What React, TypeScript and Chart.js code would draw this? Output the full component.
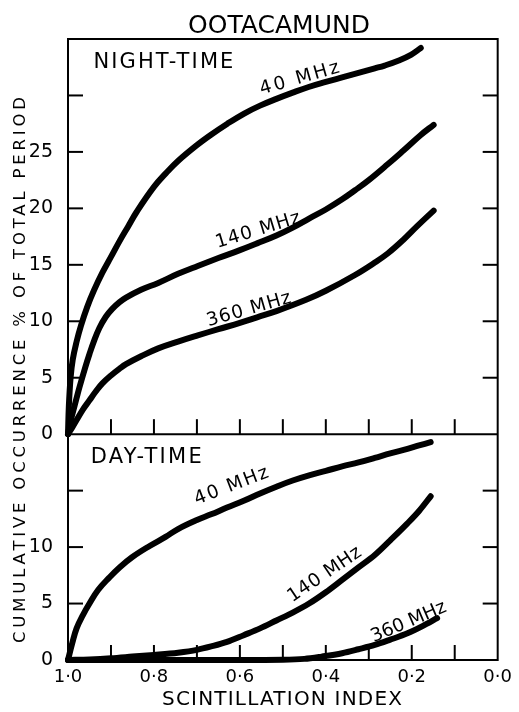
import React, { useEffect, useRef } from "react";
import { Chart, registerables } from "chart.js";

Chart.register(...registerables);

// ---------- data ----------
const titleText = "OOTACAMUND";
const xAxisTitle = "SCINTILLATION INDEX";
const yAxisTitle = "CUMULATIVE OCCURRENCE % OF TOTAL PERIOD";
const panelNames = ["NIGHT-TIME", "DAY-TIME"];
const seriesNames = ["40 MHz", "140 MHz", "360 MHz"];

// Night-time
const night40x = [1.0, 0.998, 0.994, 0.989, 0.98, 0.97, 0.955, 0.94, 0.92, 0.9, 0.88, 0.86, 0.84, 0.8, 0.77, 0.744, 0.7, 0.668, 0.629, 0.59, 0.553, 0.515, 0.477, 0.44, 0.4, 0.362, 0.324, 0.286, 0.263, 0.23, 0.202, 0.179];
const night40y = [0, 2.5, 5.0, 6.6, 8.2, 9.6, 11.3, 12.7, 14.3, 15.7, 17.1, 18.4, 19.7, 21.9, 23.2, 24.2, 25.6, 26.5, 27.5, 28.4, 29.1, 29.7, 30.25, 30.75, 31.2, 31.6, 32.0, 32.4, 32.65, 33.1, 33.6, 34.2];
const night140x = [1.0, 0.995, 0.989, 0.98, 0.973, 0.96, 0.95, 0.94, 0.927, 0.912, 0.897, 0.88, 0.865, 0.83, 0.79, 0.744, 0.698, 0.65, 0.6, 0.56, 0.515, 0.477, 0.439, 0.4, 0.362, 0.332, 0.3, 0.256, 0.22, 0.179, 0.149];
const night140y = [0, 1.0, 1.9, 3.2, 4.2, 5.9, 7.1, 8.2, 9.4, 10.4, 11.1, 11.7, 12.1, 12.8, 13.4, 14.2, 14.9, 15.6, 16.3, 16.9, 17.6, 18.3, 19.1, 19.9, 20.8, 21.6, 22.5, 23.9, 25.1, 26.5, 27.4];
const night360x = [1.0, 0.99, 0.98, 0.965, 0.95, 0.935, 0.92, 0.9, 0.88, 0.865, 0.83, 0.79, 0.744, 0.698, 0.65, 0.6, 0.56, 0.515, 0.446, 0.4, 0.332, 0.286, 0.256, 0.22, 0.188, 0.149];
const night360y = [0, 0.6, 1.25, 2.2, 3.0, 3.8, 4.5, 5.2, 5.8, 6.2, 6.9, 7.6, 8.2, 8.75, 9.3, 9.85, 10.35, 10.9, 11.9, 12.7, 14.1, 15.2, 16.0, 17.2, 18.4, 19.8];

// Day-time
const day40x = [1.0, 0.99, 0.98, 0.965, 0.95, 0.93, 0.904, 0.88, 0.851, 0.81, 0.773, 0.744, 0.7, 0.667, 0.63, 0.591, 0.553, 0.515, 0.477, 0.439, 0.4, 0.362, 0.324, 0.286, 0.25, 0.21, 0.183, 0.156];
const day40y = [0, 1.5, 2.8, 4.0, 5.0, 6.2, 7.3, 8.2, 9.1, 10.1, 10.9, 11.6, 12.4, 12.9, 13.5, 14.1, 14.75, 15.35, 15.9, 16.35, 16.75, 17.15, 17.5, 17.9, 18.3, 18.7, 19.0, 19.3];
const day140x = [1.0, 0.95, 0.9, 0.85, 0.8, 0.744, 0.7, 0.667, 0.63, 0.591, 0.553, 0.515, 0.477, 0.439, 0.4, 0.362, 0.324, 0.286, 0.25, 0.21, 0.183, 0.156];
const day140y = [0, 0.05, 0.15, 0.3, 0.45, 0.65, 0.9, 1.2, 1.6, 2.2, 2.8, 3.5, 4.2, 5.0, 6.0, 7.1, 8.2, 9.3, 10.6, 12.1, 13.2, 14.5];
const day360x = [1.0, 0.8, 0.6, 0.5, 0.45, 0.41, 0.362, 0.324, 0.286, 0.25, 0.21, 0.175, 0.141];
const day360y = [0, 0, 0, 0.02, 0.1, 0.3, 0.6, 0.95, 1.33, 1.8, 2.36, 3.0, 3.7];

// axis ranges / ticks
const nightMax = 35;
const dayMax = 20;
const yStep = 5;
const nightLabelledMax = 25;
const dayLabelledMax = 10;
const xStep = 0.1;

// label anchors in data units: [x, y]
const nightLabelAnchors = [[0.462, 31.65], [0.559, 18.2], [0.58, 11.2]];
const dayLabelAnchors = [[0.621, 15.55], [0.405, 7.7], [0.209, 3.5]];
const panelLabelAnchors = [[0.778, 33.1], [0.818, 18.16]];

// ---------- helpers ----------
const FONT = '"DejaVu Sans", "Noto Sans", sans-serif';
const zip = (xs: number[], ys: number[]) => xs.map((x, i) => ({ x, y: ys[i] }));

function spacedText(
  ctx: CanvasRenderingContext2D,
  text: string,
  cx: number,
  cy: number,
  width: number,
  size: number,
  angleDeg: number
) {
  ctx.save();
  ctx.font = `${size}px ${FONT}`;
  ctx.fillStyle = "#000";
  ctx.translate(cx, cy);
  ctx.rotate((angleDeg * Math.PI) / 180);
  ctx.textAlign = "left";
  ctx.textBaseline = "alphabetic";
  const n = Array.from(text).length;
  const anyCtx = ctx as any;
  const by = size * 0.365;
  if ("letterSpacing" in anyCtx) {
    anyCtx.letterSpacing = "0px";
    const w0 = ctx.measureText(text).width;
    const sp = n > 1 ? (width - w0) / (n - 1) : 0;
    anyCtx.letterSpacing = `${sp}px`;
    ctx.fillText(text, -width / 2, by);
  } else {
    const chars = Array.from(text);
    const ws = chars.map((c) => ctx.measureText(c).width);
    const total = ws.reduce((a, b) => a + b, 0);
    const sp = n > 1 ? (width - total) / (n - 1) : 0;
    let xx = -width / 2;
    chars.forEach((c, i) => {
      ctx.fillText(c, xx, by);
      xx += ws[i] + sp;
    });
  }
  ctx.restore();
}

const framePlugin = {
  id: "frameTicks",
  beforeDatasetsDraw(chart: any) {
    const ctx: CanvasRenderingContext2D = chart.ctx;
    const { left, right, top, bottom } = chart.chartArea;
    const xs = chart.scales.x;
    const yT = chart.scales.yTop;
    const yB = chart.scales.yBot;
    const mid = yT.getPixelForValue(0);
    const tl = 15;
    ctx.save();
    ctx.strokeStyle = "#000";
    ctx.lineWidth = 2;
    ctx.lineCap = "butt";
    const seg = (x1: number, y1: number, x2: number, y2: number) => {
      ctx.beginPath();
      ctx.moveTo(x1, y1);
      ctx.lineTo(x2, y2);
      ctx.stroke();
    };
    ctx.strokeRect(left, top, right - left, bottom - top);
    seg(left, mid, right, mid);
    for (const sc of [yT, yB]) {
      for (const t of sc.ticks) {
        if (t.value <= sc.min || t.value >= sc.max) continue;
        const py = sc.getPixelForValue(t.value);
        seg(left, py, left + tl, py);
        seg(right - tl, py, right, py);
      }
    }
    for (const t of xs.ticks) {
      if (t.value <= xs.min + 1e-9 || t.value >= xs.max - 1e-9) continue;
      const px = xs.getPixelForValue(t.value);
      seg(px, mid, px, mid - tl);
      seg(px, bottom, px, bottom - tl);
    }
    ctx.restore();
  },
  afterDraw(chart: any) {
    const ctx: CanvasRenderingContext2D = chart.ctx;
    const xs = chart.scales.x;
    const yT = chart.scales.yTop;
    const yB = chart.scales.yBot;
    // title and axis titles
    spacedText(ctx, titleText, 279, 24, 182, 25, 0);
    spacedText(ctx, xAxisTitle, 282, 698, 240, 20, 0);
    spacedText(ctx, yAxisTitle, 18.5, 370, 546, 16.5, -90);
    // panel names
    const pScales = [yT, yB];
    const pWidths = [140, 111];
    panelNames.forEach((name, i) => {
      const [vx, vy] = panelLabelAnchors[i];
      spacedText(ctx, name, xs.getPixelForValue(vx), pScales[i].getPixelForValue(vy), pWidths[i], 21, 0);
    });
    // curve labels
    const nightAngles = [-16, -17, -16];
    const nightWidths = [82, 88, 87];
    const dayAngles = [-21, -34, -23];
    const dayWidths = [78, 85, 80];
    seriesNames.forEach((name, i) => {
      const [nx, ny] = nightLabelAnchors[i];
      spacedText(ctx, name, xs.getPixelForValue(nx), yT.getPixelForValue(ny), nightWidths[i], 18.5, nightAngles[i]);
      const [dx, dy] = dayLabelAnchors[i];
      spacedText(ctx, name, xs.getPixelForValue(dx), yB.getPixelForValue(dy), dayWidths[i], 18.5, dayAngles[i]);
    });
  },
};

const fmtX = (v: number) => {
  const k = Math.round(v * 10);
  if (k % 2 !== 0) return "";
  return (k / 10).toFixed(1).replace(".", "·");
};

export default function App() {
  const ref = useRef<HTMLCanvasElement | null>(null);
  useEffect(() => {
    if (!ref.current) return;
    const smooth = {
      borderColor: "#000",
      borderWidth: 6,
      pointRadius: 0,
      tension: 0.4,
      borderCapStyle: "round" as const,
      borderJoinStyle: "round" as const,
      fill: false,
      clip: false as any,
    };
    const mono = { ...smooth, cubicInterpolationMode: "monotone" as const };
    const chart = new Chart(ref.current, {
      type: "line",
      data: {
        datasets: [
          { ...smooth, label: "Night " + seriesNames[0], data: zip(night40x, night40y), yAxisID: "yTop" },
          { ...smooth, label: "Night " + seriesNames[1], data: zip(night140x, night140y), yAxisID: "yTop" },
          { ...smooth, label: "Night " + seriesNames[2], data: zip(night360x, night360y), yAxisID: "yTop" },
          { ...smooth, label: "Day " + seriesNames[0], data: zip(day40x, day40y), yAxisID: "yBot" },
          { ...mono, label: "Day " + seriesNames[1], data: zip(day140x, day140y), yAxisID: "yBot" },
          { ...mono, label: "Day " + seriesNames[2], data: zip(day360x, day360y), yAxisID: "yBot" },
        ],
      },
      options: {
        animation: false,
        responsive: false,
        maintainAspectRatio: false,
        devicePixelRatio: 1,
        layout: { padding: { top: 39, right: 14, left: 0, bottom: 0 } },
        plugins: {
          legend: { display: false },
          tooltip: { enabled: false },
          title: { display: false },
        },
        scales: {
          x: {
            type: "linear",
            position: "bottom",
            min: 0,
            max: 1,
            reverse: true,
            grid: { display: false, drawTicks: false },
            border: { display: false },
            ticks: {
              stepSize: xStep,
              autoSkip: false,
              maxRotation: 0,
              padding: 7,
              color: "#000",
              font: { family: FONT, size: 18 },
              callback: (v: any) => fmtX(Number(v)),
            },
            afterFit: (s: any) => {
              s.height = 52;
            },
          },
          yTop: {
            type: "linear",
            position: "left",
            stack: "panels",
            stackWeight: nightMax,
            weight: 2,
            min: 0,
            max: nightMax,
            grid: { display: false, drawTicks: false },
            border: { display: false },
            ticks: {
              stepSize: yStep,
              padding: 15,
              color: "#000",
              font: { family: FONT, size: 19 },
              callback: (v: any) => (Number(v) <= nightLabelledMax ? String(v) : ""),
            },
            afterFit: (s: any) => {
              s.width = 68;
            },
          },
          yBot: {
            type: "linear",
            position: "left",
            stack: "panels",
            stackWeight: dayMax,
            weight: 1,
            min: 0,
            max: dayMax,
            grid: { display: false, drawTicks: false },
            border: { display: false },
            ticks: {
              stepSize: yStep,
              padding: 15,
              color: "#000",
              font: { family: FONT, size: 19 },
              callback: (v: any) => (Number(v) <= dayLabelledMax ? String(v) : ""),
            },
            afterFit: (s: any) => {
              s.width = 68;
            },
          },
        } as any,
      },
      plugins: [framePlugin],
    });
    return () => chart.destroy();
  }, []);
  return (
    <div style={{ position: "absolute", left: 0, top: 0, width: 519, height: 712, background: "#fff" }}>
      <canvas ref={ref} width={519} height={712} style={{ display: "block", width: 519, height: 712 }} />
    </div>
  );
}
